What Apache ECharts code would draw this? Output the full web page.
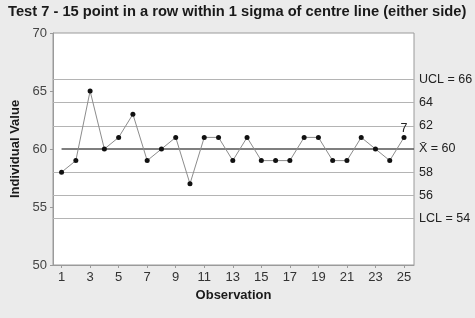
<!DOCTYPE html>
<html><head><meta charset="utf-8">
<script src="https://cdn.jsdelivr.net/npm/echarts@6/dist/echarts.min.js"></script>
<style>html,body{margin:0;padding:0;background:#ebebeb}#c{width:475px;height:318px}</style>
</head><body><div id="c"></div>
<script>
const observations = [1,2,3,4,5,6,7,8,9,10,11,12,13,14,15,16,17,18,19,20,21,22,23,24,25];
const values = [58,59,65,60,61,63,59,60,61,57,61,61,59,61,59,59,59,61,61,59,59,61,60,59,61];
const xTickLabels = [1,3,5,7,9,11,13,15,17,19,21,23,25];
const limitLines = [
  {value:66, label:'UCL = 66'},
  {value:64, label:'64'},
  {value:62, label:'62'},
  {value:58, label:'58'},
  {value:56, label:'56'},
  {value:54, label:'LCL = 54'}
];
const centre = {value:60, label:'X\u0304 = 60'};
const flagged = [{obs:25, value:61, text:'7'}];

const font = 'Liberation Sans, Arial, sans-serif';
const chart = echarts.init(document.getElementById('c'), null, {renderer:'canvas'});
const xMin = 0.4, xMax = 25.7;
chart.setOption({
  backgroundColor:'#ebebeb',
  animation:false,
  title:{text:'Test 7 - 15 point in a row within 1 sigma of centre line (either side)',
    left:8, top:4, padding:0, textStyle:{fontFamily:font, fontSize:14.7, fontWeight:'bold', color:'#1a1a1a'}},
  grid:{left:53, right:61, top:33, bottom:53, show:true, backgroundColor:'#ffffff', borderColor:'#9a9a9a', borderWidth:1},
  xAxis:{type:'value', min:xMin, max:xMax,
    name:'Observation', nameLocation:'middle', nameGap:23,
    nameTextStyle:{fontFamily:font, fontSize:13, fontWeight:'bold', color:'#1a1a1a'},
    axisLine:{show:true, lineStyle:{color:'#9a9a9a'}},
    axisTick:{show:true, length:3, customValues:xTickLabels, lineStyle:{color:'#9a9a9a'}},
    axisLabel:{customValues:xTickLabels, fontFamily:font, fontSize:13, color:'#333', margin:6},
    splitLine:{show:false}},
  yAxis:{type:'value', min:50, max:70, interval:5,
    name:'Individual Value', nameLocation:'middle', nameGap:27,
    nameTextStyle:{fontFamily:font, fontSize:13, fontWeight:'bold', color:'#1a1a1a'},
    axisLine:{show:true, lineStyle:{color:'#9a9a9a'}},
    axisTick:{show:true, length:3, lineStyle:{color:'#9a9a9a'}},
    axisLabel:{fontFamily:font, fontSize:13, color:'#444', margin:6},
    splitLine:{show:false}},
  series:[{
    type:'line',
    data:observations.map((o,i)=>[o, values[i]]),
    symbol:'circle', symbolSize:5,
    itemStyle:{color:'#111'},
    lineStyle:{color:'#8c8c8c', width:1},
    z:5,
    markLine:{
      silent:true, symbol:['none','none'],
      label:{show:true, position:'end', distance:5, formatter:p=>p.name,
        fontFamily:font, fontSize:12.5, color:'#222'},
      data:[
        ...limitLines.map(l=>({name:l.label, yAxis:l.value,
          lineStyle:{color:'#b4b4b4', width:1, type:'solid'}})),
        [{name:centre.label, coord:[1, centre.value], lineStyle:{color:'#555', width:1.5, type:'solid'}},
         {coord:[xMax, centre.value]}]
      ]
    },
    markPoint:{
      symbol:'circle', symbolSize:1, itemStyle:{color:'transparent'},
      label:{show:true, position:'top', distance:2, formatter:p=>p.name,
        fontFamily:font, fontSize:12.5, color:'#222'},
      data:flagged.map(f=>({name:f.text, coord:[f.obs, f.value]}))
    }
  }]
});
</script></body></html>
